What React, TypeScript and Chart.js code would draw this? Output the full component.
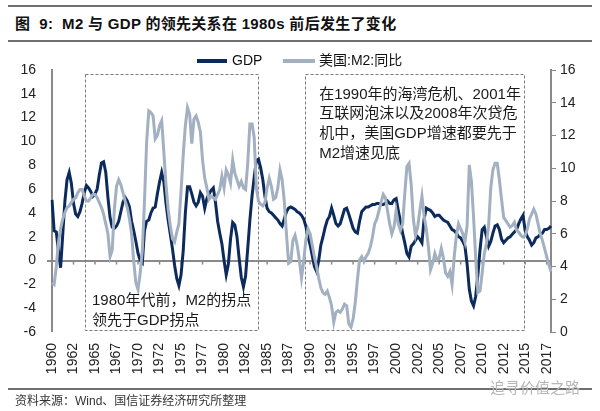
import React, { useEffect, useRef } from "react";
import { Chart, registerables } from "chart.js";

Chart.register(...registerables);

// Quarterly data, 1960Q1 onwards
const START_YEAR = 1960;

const gdpYoY = [
  5.1, 2.5, 2.4, 0.8, -0.6, 2.2, 5.0, 6.8, 7.4, 6.5,
  4.8, 3.9, 3.7, 4.1, 4.8, 5.7, 6.3, 6.1, 5.8, 5.4,
  5.6, 6.0, 7.2, 8.2, 8.3, 7.4, 5.3, 3.6, 2.8, 2.7,
  2.9, 3.3, 4.1, 4.9, 5.3, 5.0, 4.5, 3.3, 2.5, 1.6,
  0.6, 0.0, -0.2, 2.5, 3.3, 3.4, 4.0, 4.4, 4.5, 5.6,
  6.6, 7.4, 6.6, 4.8, 3.4, 2.2, 1.0, -0.4, -1.5, -2.1,
  -1.2, 0.8, 4.0, 6.2, 6.2, 5.6, 4.9, 4.6, 4.9, 5.7,
  5.4, 4.4, 5.2, 5.6, 5.9, 6.1, 4.9, 3.3, 2.3, 1.4,
  0.0, -1.2, -0.3, 1.8, 3.2, 3.0, 2.0, 0.2, -1.4, -2.2,
  -1.3, 1.0, 3.4, 5.4, 7.0, 8.4, 8.5, 7.8, 6.8, 5.4,
  4.4, 4.1, 4.0, 3.8, 3.6, 3.4, 3.1, 2.9, 3.5, 4.1,
  4.4, 4.5, 4.4, 4.3, 4.1, 4.0, 3.8, 3.5, 2.9, 2.0,
  1.3, 0.4, -0.5, -0.9, 0.0, 1.3, 2.0, 2.8, 3.4, 3.7,
  4.4, 3.8, 3.1, 2.9, 3.1, 3.7, 4.3, 4.4, 3.9, 3.3,
  2.7, 2.4, 2.3, 3.3, 4.1, 4.3, 4.5, 4.5, 4.6, 4.7,
  4.7, 4.8, 4.8, 4.7, 4.7, 4.8, 5.0, 4.8, 4.8, 5.1,
  5.2, 4.2, 3.3, 2.3, 1.5, 0.6, 0.3, 1.2, 1.4, 1.7,
  2.0, 1.8, 1.5, 3.5, 4.4, 4.3, 4.2, 4.0, 3.7, 3.8,
  3.8, 3.6, 3.4, 3.3, 3.2, 2.9, 2.6, 2.5, 2.3, 2.0,
  1.9, 1.6, 1.2, -0.3, -2.4, -3.4, -3.8, -3.0, -1.2, 0.9,
  2.6, 2.8, 2.0, 1.2, 1.6, 2.3, 2.9, 3.0, 2.6, 1.8,
  1.5, 1.7, 1.9, 2.0, 2.2, 2.4, 2.6, 3.1, 3.5, 3.8,
  2.5, 2.0, 1.7, 1.3, 1.5, 1.9, 2.0, 2.2, 2.3, 2.6,
  2.6, 2.7, 2.9,
];

const m2YoY = [
  3.0, 2.9, 4.0, 5.5, 6.3, 6.9, 7.3, 7.6, 7.7, 7.9,
  8.1, 8.2, 8.5, 8.7, 8.7, 8.3, 8.0, 8.0, 8.2, 8.4,
  8.4, 8.2, 7.9, 7.6, 7.2, 6.6, 6.0, 4.6, 5.0, 7.5,
  8.9, 9.3, 9.0, 8.5, 8.0, 7.6, 6.9, 6.0, 4.3, 3.0,
  2.6, 3.6, 5.0, 8.0, 11.6, 13.5, 13.4, 13.2, 11.8, 12.0,
  12.6, 12.9, 11.0, 9.0, 7.5, 6.5, 5.7, 5.5, 6.1, 6.6,
  8.6, 10.8, 12.6, 13.7, 13.3, 11.5, 13.0, 13.2, 12.8, 12.2,
  10.5, 9.4, 8.8, 8.1, 8.3, 8.2, 8.1, 8.4, 8.7, 9.5,
  8.8, 9.9, 9.6, 9.1, 10.5, 9.7, 9.3, 8.9, 9.2, 8.8,
  8.7, 10.3, 12.7, 12.7, 11.9, 8.8, 8.0, 7.8, 7.7, 7.9,
  8.8, 9.4, 8.9, 8.1, 8.2, 8.8, 9.9, 9.3, 8.0, 6.0,
  4.2, 4.3, 5.6, 5.9, 5.3, 4.4, 3.3, 4.3, 5.6, 6.3,
  6.0, 5.3, 4.6, 4.0, 3.3, 2.7, 2.4, 2.3, 2.5, 2.1,
  1.6, 0.6, 1.2, 1.3, 1.2, 1.4, 1.7, 1.6, 0.5, 0.3,
  0.8, 1.8, 3.2, 4.4, 4.6, 4.3, 4.6, 4.8, 5.2, 5.8,
  6.6, 6.9, 7.4, 7.9, 8.4, 8.2, 7.4, 6.6, 6.0, 6.4,
  7.4, 6.6, 6.2, 6.6, 8.4, 10.1, 10.3, 9.0, 6.9, 5.9,
  6.4, 7.4, 8.3, 7.1, 6.3, 5.2, 3.8, 4.2, 4.8, 4.4,
  4.5, 5.1, 4.5, 3.6, 3.4, 3.7, 2.9, 4.6, 5.9, 6.6,
  6.3, 6.0, 5.5, 6.5, 10.2, 9.2, 7.0, 4.5, 2.4, 2.5,
  3.6, 4.8, 5.4, 6.5, 8.8, 9.9, 10.3, 10.3, 9.3, 8.1,
  7.0, 6.8, 6.6, 6.4, 6.5, 6.7, 6.2, 6.1, 5.9, 5.8,
  5.9, 6.3, 6.9, 7.2, 7.5, 7.2, 6.6, 6.0, 5.6, 5.1,
  4.6, 4.1, 3.7,
];

const quarterLabels = gdpYoY.map(
  (_, i) => `${START_YEAR + Math.floor(i / 4)}Q${(i % 4) + 1}`
);
const LABEL_EVERY = 10;

const TITLE_PREFIX = "图  9:";
const TITLE = "M2 与 GDP 的领先关系在 1980s 前后发生了变化";
const SOURCE = "资料来源：Wind、国信证券经济研究所整理";
const WATERMARK = "追寻价值之路";
const GDP_NAME = "GDP";
const M2_NAME = "美国:M2:同比";

const box1Lines = ["1980年代前，M2的拐点", "领先于GDP拐点"];
const box2Lines = [
  "在1990年的海湾危机、2001年",
  "互联网泡沫以及2008年次贷危",
  "机中，美国GDP增速都要先于",
  "M2增速见底",
];

// annotation boxes in data units (quarter index, left-axis value)
const boxes = [
  { x0: 15.4, x1: 95.8, y0: 15.7, y1: -5.8, textX: 18.6, textY: [-3.4, -5.1], lines: box1Lines },
  { x0: 117.6, x1: 219.4, y0: 15.65, y1: -5.85, textX: 124.2, textY: [13.95, 12.3, 10.65, 9.0], lines: box2Lines },
];

const GDP_COLOR = "#0c2b5c";
const M2_COLOR = "#a2b0c1";
const AXIS_COLOR = "#8a8a8a";
const FONT = '"Liberation Sans", "Noto Sans CJK SC", sans-serif';

const annotationPlugin = {
  id: "annots",
  beforeDatasetsDraw(chart: any) {
    const { ctx } = chart;
    const xs = chart.scales.x;
    const ys = chart.scales.y;
    ctx.save();
    ctx.strokeStyle = "#7a7a7a";
    ctx.lineWidth = 1;
    ctx.setLineDash([3, 2]);
    boxes.forEach((b) => {
      const l = Math.round(xs.getPixelForValue(b.x0)) + 0.5;
      const r = Math.round(xs.getPixelForValue(b.x1)) + 0.5;
      const t = Math.round(ys.getPixelForValue(b.y0)) + 0.5;
      const bt = Math.round(ys.getPixelForValue(b.y1)) + 0.5;
      ctx.strokeRect(l, t, r - l, bt - t);
    });
    ctx.setLineDash([]);
    // small tick marks on the zero line
    const y0 = ys.getPixelForValue(0);
    ctx.strokeStyle = AXIS_COLOR;
    ctx.lineWidth = 1.5;
    for (let i = 0; i < quarterLabels.length; i += LABEL_EVERY) {
      const x = xs.getPixelForValue(i);
      ctx.beginPath();
      ctx.moveTo(x, y0);
      ctx.lineTo(x, y0 + 4);
      ctx.stroke();
    }
    ctx.restore();
  },
  afterDatasetsDraw(chart: any) {
    const { ctx } = chart;
    const xs = chart.scales.x;
    const ys = chart.scales.y;
    ctx.save();
    ctx.fillStyle = "#1a1a1a";
    ctx.font = `15px ${FONT}`;
    ctx.textAlign = "left";
    ctx.textBaseline = "middle";
    boxes.forEach((b) => {
      const x = xs.getPixelForValue(b.textX);
      b.lines.forEach((line, i) => {
        ctx.fillText(line, x, ys.getPixelForValue(b.textY[i]));
      });
    });
    ctx.restore();
  },
};

export default function App() {
  const canvasRef = useRef<HTMLCanvasElement | null>(null);

  useEffect(() => {
    if (!canvasRef.current) return;
    const chart = new Chart(canvasRef.current, {
      type: "line",
      data: {
        labels: quarterLabels,
        datasets: [
          {
            label: GDP_NAME,
            data: gdpYoY,
            borderColor: GDP_COLOR,
            backgroundColor: GDP_COLOR,
            borderWidth: 3,
            pointRadius: 0,
            tension: 0,
            yAxisID: "y",
            order: 1,
          },
          {
            label: M2_NAME,
            data: m2YoY,
            borderColor: M2_COLOR,
            backgroundColor: M2_COLOR,
            borderWidth: 3,
            pointRadius: 0,
            tension: 0,
            yAxisID: "y1",
            order: 0,
          },
        ],
      },
      options: {
        animation: false,
        responsive: false,
        devicePixelRatio: 1,
        layout: { padding: { top: 25, left: 0, right: 0, bottom: 0 } },
        plugins: {
          legend: { display: false },
          tooltip: { enabled: false },
        },
        scales: {
          x: {
            type: "category",
            offset: false,
            border: { display: false },
            grid: { display: false, drawTicks: false },
            ticks: {
              autoSkip: false,
              minRotation: 90,
              maxRotation: 90,
              padding: 11,
              color: "#222",
              font: { family: FONT, size: 14 },
              callback: (_v: any, i: number) =>
                i % LABEL_EVERY === 0 ? quarterLabels[i].slice(0, 4) : null,
            },
            afterFit: (s: any) => {
              s.height = 58;
            },
          },
          y: {
            position: "left",
            min: -6,
            max: 16,
            border: { display: true, color: AXIS_COLOR, width: 2 },
            grid: {
              drawOnChartArea: true,
              drawTicks: true,
              tickLength: 5,
              tickColor: AXIS_COLOR,
              lineWidth: (c: any) => (c.tick && c.tick.value === 0 ? 2 : 0),
              color: (c: any) => (c.tick && c.tick.value === 0 ? AXIS_COLOR : "rgba(0,0,0,0)"),
            },
            ticks: {
              stepSize: 2,
              padding: 11,
              color: "#222",
              font: { family: FONT, size: 14 },
            },
            afterFit: (s: any) => {
              s.width = 52;
            },
          },
          y1: {
            position: "right",
            min: 0,
            max: 16,
            border: { display: true, color: AXIS_COLOR, width: 2 },
            grid: {
              drawOnChartArea: false,
              drawTicks: true,
              tickLength: 5,
              tickColor: AXIS_COLOR,
            },
            ticks: {
              stepSize: 2,
              padding: 4,
              color: "#222",
              font: { family: FONT, size: 14 },
            },
            afterFit: (s: any) => {
              s.width = 49;
            },
          },
        },
      },
      plugins: [annotationPlugin],
    });
    return () => chart.destroy();
  }, []);

  const lineStyle = (top: number): React.CSSProperties => ({
    position: "absolute",
    left: 8,
    width: 584,
    top,
    height: 2,
    background: "#6f6f6f",
  });

  return (
    <div
      style={{
        position: "fixed",
        left: 0,
        top: 0,
        width: 600,
        height: 411,
        background: "#fff",
        fontFamily: FONT,
        overflow: "hidden",
      }}
    >
      <div style={lineStyle(5)} />
      <div
        style={{
          position: "absolute",
          left: 15,
          top: 14,
          fontSize: 15,
          fontWeight: "bold",
          color: "#111",
          whiteSpace: "pre",
          lineHeight: "20px",
          letterSpacing: "0.3px",
        }}
      >
        {TITLE_PREFIX + "  " + TITLE}
      </div>
      <div style={{ ...lineStyle(40), height: 1.5 }} />
      <canvas
        ref={canvasRef}
        width={600}
        height={345}
        style={{ position: "absolute", left: 0, top: 45, width: 600, height: 345 }}
      />
      {/* legend */}
      <div style={{ position: "absolute", left: 197, top: 59, width: 30, height: 4, background: GDP_COLOR }} />
      <div style={{ position: "absolute", left: 232, top: 51, fontSize: 14, color: "#111", lineHeight: "18px" }}>
        {GDP_NAME}
      </div>
      <div style={{ position: "absolute", left: 283, top: 59, width: 32, height: 4, background: M2_COLOR }} />
      <div style={{ position: "absolute", left: 319, top: 51, fontSize: 14, color: "#111", lineHeight: "18px", whiteSpace: "nowrap" }}>
        {M2_NAME}
      </div>
      <div style={{ ...lineStyle(388), height: 1.5 }} />
      <div
        style={{
          position: "absolute",
          left: 490,
          top: 376,
          fontSize: 15,
          color: "#b8b8b8",
          whiteSpace: "nowrap",
        }}
      >
        {WATERMARK}
      </div>
      <div
        style={{
          position: "absolute",
          left: 15,
          top: 394,
          fontSize: 12,
          color: "#333",
          whiteSpace: "nowrap",
          lineHeight: "14px",
        }}
      >
        {SOURCE}
      </div>
    </div>
  );
}
